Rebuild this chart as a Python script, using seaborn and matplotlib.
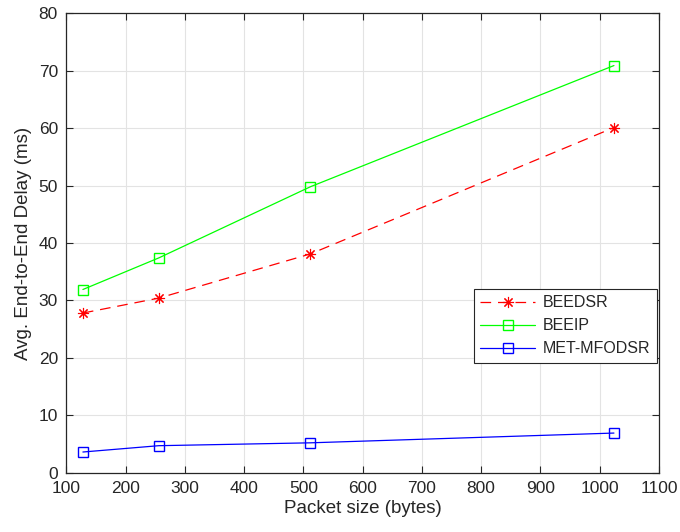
import matplotlib
matplotlib.use("Agg")
import matplotlib.pyplot as plt
import seaborn as sns
import pandas as pd

packet_sizes = [128, 256, 512, 1024]
beedsr = [27.8, 30.4, 38.1, 60.1]
beeip = [31.9, 37.4, 49.8, 70.9]
met_mfodsr = [3.6, 4.7, 5.2, 6.9]
series_names = ["BEEDSR", "BEEIP", "MET-MFODSR"]

x_ticks = [100, 200, 300, 400, 500, 600, 700, 800, 900, 1000, 1100]
y_ticks = [0, 10, 20, 30, 40, 50, 60, 70, 80]

sns.set_theme(style="white")
plt.rcParams["font.family"] = ["Liberation Sans", "DejaVu Sans"]

fig = plt.figure(figsize=(6.8, 5.32), dpi=100)
ax = fig.add_axes([0.0975, 0.1115, 0.9691 - 0.0975, 0.975 - 0.1115])

styles = [
    dict(color="#ff0000", marker=(8, 2, 0), linestyle=(0, (8.5, 5.5)), markersize=8,
         markeredgewidth=0.8),
    dict(color="#00ff00", marker="s", linestyle="-", markersize=6.5,
         markerfacecolor="none", markeredgewidth=1.0),
    dict(color="#0000ff", marker="s", linestyle="-", markersize=6.5,
         markerfacecolor="none", markeredgewidth=1.0),
]

for name, vals, st in zip(series_names, [beedsr, beeip, met_mfodsr], styles):
    df = pd.DataFrame({"x": packet_sizes, "y": vals})
    kw = dict(st)
    color = kw.pop("color")
    sns.lineplot(data=df, x="x", y="y", ax=ax, color=color, label=name,
                 linewidth=0.9, markeredgecolor=color, **kw)

ax.set_xlim(100, 1100)
ax.set_ylim(0, 80)
ax.set_xticks(x_ticks)
ax.set_yticks(y_ticks)
ax.grid(True, color="#e3e3e3", linewidth=0.8)
ax.tick_params(direction="in", length=5, width=0.8, color="#262626",
               top=True, right=True, bottom=True, left=True,
               labelsize=12.5, labelcolor="#262626", pad=6)
for s in ax.spines.values():
    s.set_color("#262626")
    s.set_linewidth(0.9)

ax.set_xlabel("Packet size (bytes)", fontsize=13.5, color="#262626", labelpad=3)
ax.set_ylabel("Avg. End-to-End Delay (ms)", fontsize=13.5, color="#262626", labelpad=5)

leg = ax.legend(loc="upper left", bbox_to_anchor=(0.688, 0.40), fontsize=11.5,
                frameon=True, fancybox=False, framealpha=1, edgecolor="#262626",
                handlelength=3.4, handletextpad=0.5, borderpad=0.4,
                labelspacing=0.5, borderaxespad=0)
leg.get_frame().set_linewidth(0.8)

fig.savefig("out.png", dpi=100)
